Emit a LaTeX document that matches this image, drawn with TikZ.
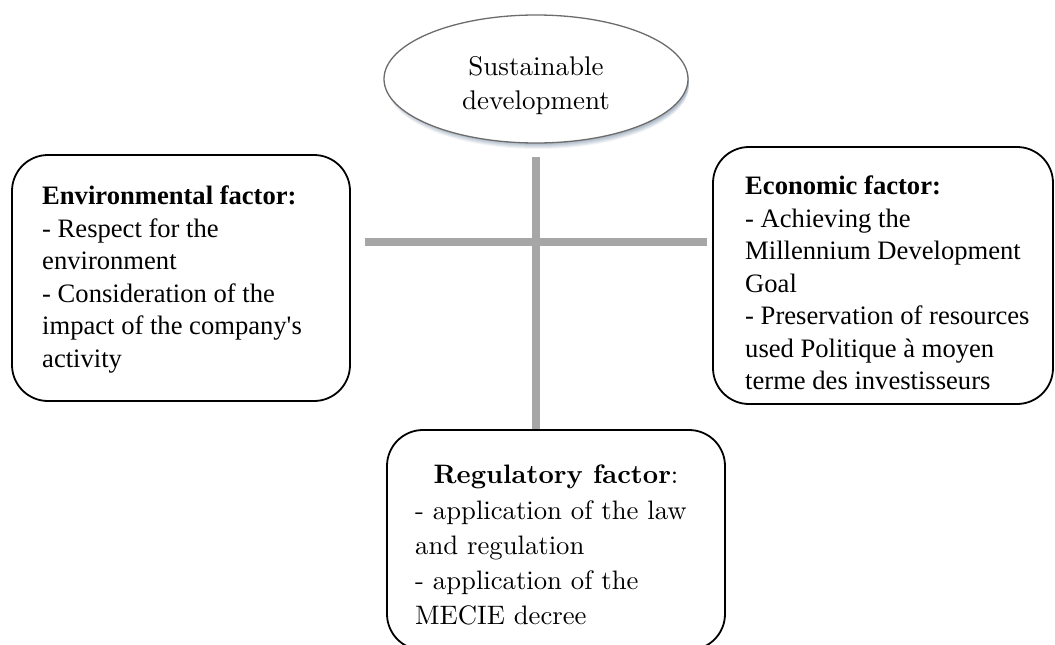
\documentclass[tikz,border=0pt]{standalone}
\usepackage{fontspec}
\setmainfont{Liberation Serif}[Ligatures=TeXOff]
\newfontfamily\lmfont{lmroman10}[Extension=.otf, UprightFont=*-regular, BoldFont=*-bold]
\usetikzlibrary{shapes.geometric}
\definecolor{crossgray}{HTML}{A6A6A6}
\definecolor{shadowblue}{HTML}{7F93AA}
\tikzset{
  factorbox/.style={draw=black, line width=1.8pt, rounded corners=36pt, inner sep=0pt},
  timestext/.style={inner sep=0pt, align=left, font=\fontsize{26.6}{32.5}\selectfont},
  pagtext/.style={inner sep=0pt, align=left, font=\lmfont\fontsize{26.7}{35}\selectfont},
  crossbar/.style={crossgray, line width=8.5pt},
}
\begin{document}
\begin{tikzpicture}[x=1pt, y=-1pt]
  \useasboundingbox (0,0) rectangle (1055,645);
  \clip (0,0) rectangle (1055,645);

  % soft shadow under the central ellipse
  \foreach \d/\o in {7/0.10, 6/0.12, 5/0.14, 4/0.16, 3/0.18, 2/0.18}
    \fill[shadowblue, opacity=\o] (538,79+\d) ellipse [x radius=151, y radius=63];

  % central ellipse
  \node[ellipse, draw=gray!85!black, line width=1.3pt, fill=white,
        minimum width=304pt, minimum height=128pt] (sd) at (536,79) {};
  \node[inner sep=0pt, align=center, font=\lmfont\fontsize{27}{34}\selectfont]
        (sdtext) at (536,86) {Sustainable\\development};

  % factor boxes
  \node[factorbox, minimum width=338pt, minimum height=246pt] (env) at (181,278) {};
  \node[factorbox, minimum width=340pt, minimum height=257pt] (eco) at (883,275.5) {};
  \node[factorbox, minimum width=338pt, minimum height=220pt] (reg) at (556,540) {};

  % cross of connectors
  \coordinate (hl) at (365,242);
  \coordinate (hr) at (707,242);
  \draw[crossbar] ([yshift=-13pt]sd.south) -- (sd.south |- reg.north);
  \draw[crossbar] (hl) -- (hr);

  % box texts
  \node[timestext, anchor=north west] (envtext) at (42,186)
    {\textbf{Environmental factor:}\\
     - Respect for the\\
     environment\\
     - Consideration of the\\
     impact of the company's\\
     activity};
  \node[timestext, anchor=north west] (ecotext) at (745,176)
    {\textbf{Economic factor:}\\
     - Achieving the\\
     Millennium Development\\
     Goal\\
     - Preservation of resources\\
     used Politique à moyen\\
     terme des investisseurs};
  \node[pagtext, anchor=base] (reghead) at (556,483)
    {\textbf{Regulatory factor}:};
  \node[pagtext, anchor=north west] (regtext) at (415,500)
    {- application of the law\\
     and regulation\\
     - application of the\\
     MECIE decree};
\end{tikzpicture}
\end{document}
